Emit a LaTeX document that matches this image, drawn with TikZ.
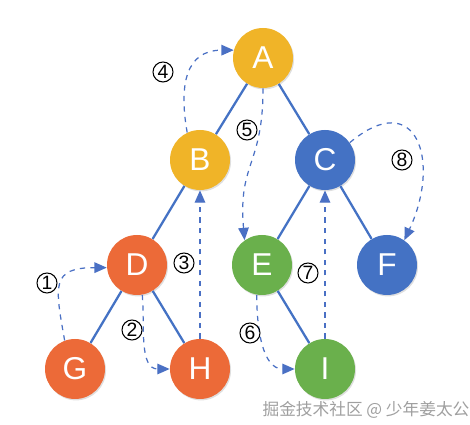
\documentclass[tikz,border=0pt]{standalone}
\usepackage{fontspec}
\setmainfont{Liberation Sans}
\newfontfamily\cjk{Noto Sans CJK SC}
\usetikzlibrary{arrows.meta,shadows}
\definecolor{treeyellow}{RGB}{240,180,40}
\definecolor{treeblue}{RGB}{68,114,196}
\definecolor{treeorange}{RGB}{236,106,56}
\definecolor{treegreen}{RGB}{106,176,76}
\definecolor{walkblue}{RGB}{74,112,196}

\begin{document}
\begin{tikzpicture}[x=0.02cm, y=0.02cm,
        vertex/.style={circle, minimum size=1.2cm, inner sep=0pt, text=white,
            font=\fontsize{18}{18}\selectfont,
            drop shadow={opacity=0.25, shadow xshift=0.6pt, shadow yshift=-0.8pt}},
        edge/.style={treeblue, line width=1.3pt},
        walk/.style={walkblue, dashed, line width=0.7pt, -{Triangle[length=7pt,width=6pt]}},
        stepno/.style={circle, draw, line width=0.6pt, minimum size=0.4cm, inner sep=0pt,
            font=\fontsize{11}{11}\selectfont}]
    \useasboundingbox (0,0) rectangle (470,425);
    % Below nodes are the tree vertices.
        \node[vertex, fill=treeyellow] (A) at (263, 367) {A};
        \node[vertex, fill=treeyellow] (B) at (200, 265) {B};
        \node[vertex, fill=treeblue] (C) at (325, 265) {C};
        \node[vertex, fill=treeorange] (D) at (137, 160) {D};
        \node[vertex, fill=treegreen] (E) at (262, 160) {E};
        \node[vertex, fill=treeblue] (F) at (387, 160) {F};
        \node[vertex, fill=treeorange] (G) at (75, 56) {G};
        \node[vertex, fill=treeorange] (H) at (200, 56) {H};
        \node[vertex, fill=treegreen] (I) at (325, 56) {I};
    % This draws the tree edges.
        \draw[edge] (A) -- (B);
        \draw[edge] (A) -- (C);
        \draw[edge] (B) -- (D);
        \draw[edge] (C) -- (E);
        \draw[edge] (C) -- (F);
        \draw[edge] (D) -- (G);
        \draw[edge] (D) -- (H);
        \draw[edge] (E) -- (I);
    % Below are the dashed walk arrows.
        \draw[walk] (G.110) to[out=100, in=180, looseness=1.7] (D.185);
        \draw[walk] (D.-80) to[out=-85, in=180] (H.west);
        \draw[walk] (H.north) -- (B.south);
        \draw[walk] (B.115) to[out=100, in=180, looseness=1.3] (A.165);
        \draw[walk] (A.south) to[out=-90, in=95, looseness=1.3] (E.125);
        \draw[walk] (E.-100) to[out=-90, in=180] (I.west);
        \draw[walk] (I.north) -- (C.south);
        \draw[walk] (C.35) to[out=40, in=65, looseness=2] (F.55);
    % Below nodes are the step labels.
        \node[stepno] (s1) at (47, 142) {1};
        \node[stepno] (s2) at (132, 95) {2};
        \node[stepno] (s3) at (184, 162) {3};
        \node[stepno] (s4) at (163, 353) {4};
        \node[stepno] (s5) at (247, 295) {5};
        \node[stepno] (s6) at (250, 92) {6};
        \node[stepno] (s7) at (308, 152) {7};
        \node[stepno] (s8) at (402, 265) {8};
        \node[text=gray!75, font=\cjk\fontsize{9.5}{9.5}\selectfont] (mark) at (366, 15) {掘金技术社区 @ 少年姜太公};
\end{tikzpicture}
\end{document}
